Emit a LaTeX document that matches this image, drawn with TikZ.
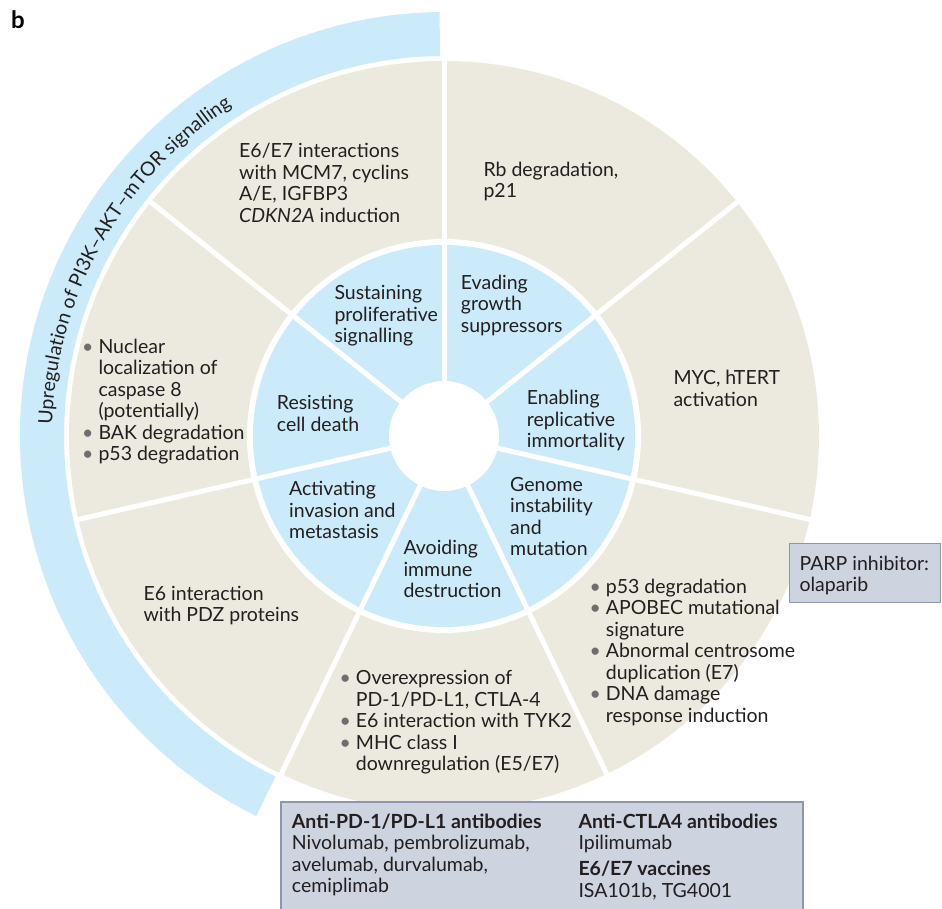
\documentclass[tikz,border=0pt]{standalone}
\usepackage{fontspec}
\setmainfont{Lato}
\usepackage{tikz}
\usetikzlibrary{decorations.text}
\definecolor{hallblue}{RGB}{204,235,250}
\definecolor{hpvbeige}{RGB}{236,234,222}
\definecolor{drugfill}{RGB}{206,211,224}
\definecolor{drugline}{RGB}{140,150,176}
\definecolor{inktext}{RGB}{35,31,32}
\definecolor{dotgray}{RGB}{110,110,110}
% anchor is the baseline of the last line
\tikzstyle{celltext}=[anchor=base west,inner sep=0pt,align=left,text=inktext,font=\fontsize{19.5}{21.5}\selectfont]
\tikzstyle{gap}=[draw=white,line width=5pt]
\tikzstyle{drugbox}=[fill=drugfill,draw=drugline,line width=1.2pt]
\newcommand{\bul}{\llap{\textcolor{dotgray}{\textbullet}\hspace{5pt}}}
\newcommand{\arcfont}{\fontsize{19.5}{21}\selectfont}

\begin{document}
\begin{tikzpicture}[x=1pt,y=1pt]
        \useasboundingbox (0,0) rectangle (942,908);
        \coordinate (c) at (444,472);
        % rings and sectors
        \fill[hpvbeige] (c) circle (375);
        \fill[white] (c) circle (197);
        \fill[hallblue] (c) circle (191);
        \fill[white] (c) circle (55);
        \foreach \k in {0,...,6}
          \draw[gap] (c) -- ++({90-\k*360/7}:377);
        % outer band
        \fill[hallblue] ([shift={(90.6:380)}]c) arc[start angle=90.6,end angle=243.7,radius=380]
          -- ([shift={(243.7:424)}]c) arc[start angle=243.7,end angle=90.6,radius=424] -- cycle;
        \path[decorate,decoration={text along path,text align=center,
          text={|\arcfont\color{inktext}|Upregulation of PI3K–AKT–mTOR signalling}}]
          ([shift={(177.7:392)}]c) arc[start angle=177.7,end angle=123.4,radius=392];
        \node[anchor=base west,inner sep=0pt,text=black,font=\fontsize{24}{24}\selectfont\bfseries] (panel) at (11,879) {b};
        % hallmarks
        \node[celltext] (sustain) at (334.3,565.2) {Sustaining\\proliferative\\signalling};
        \node[celltext] (evade) at (460.7,575.8) {Evading\\growth\\suppressors};
        \node[celltext] (enable) at (526.7,460.2) {Enabling\\replicative\\immortality};
        \node[celltext] (genome) at (510,352) {Genome\\instability\\and\\mutation};
        \node[celltext] (avoid) at (403.3,310.2) {Avoiding\\immune\\destruction};
        \node[celltext] (invade) at (289,369.2) {Activating\\invasion and\\metastasis};
        \node[celltext] (resist) at (276.7,476.7) {Resisting\\cell death};
        % HPV mechanisms
        \node[celltext] (mcm) at (239,685.5) {E6/E7 interactions\\with MCM7, cyclins\\A/E, IGFBP3\\\textit{CDKN2A} induction};
        \node[celltext] (rb) at (483.3,710) {Rb degradation,\\p21};
        \node[celltext] (myc) at (673.3,501.7) {MYC, hTERT\\activation};
        \node[celltext] (dna) at (605.7,185.8) {\bul p53 degradation\\\bul APOBEC mutational\\signature\\\bul Abnormal centrosome\\duplication (E7)\\\bul DNA damage\\response induction};
        \node[celltext] (pd1) at (355.7,137.2) {\bul Overexpression of\\PD-1/PD-L1, CTLA-4\\\bul E6 interaction with TYK2\\\bul MHC class I\\downregulation (E5/E7)};
        \node[celltext] (pdz) at (143.3,286) {E6 interaction\\with PDZ proteins};
        \node[celltext] (casp) at (98.3,447.3) {\bul Nuclear\\localization of\\caspase 8\\(potentially)\\\bul BAK degradation\\\bul p53 degradation};
        % therapies
        \draw[drugbox] (789.3,364.7) rectangle (940.7,305.3);
        \node[celltext] (parp) at (799.3,316) {PARP inhibitor:\\olaparib};
        \draw[drugbox] (281,-4) rectangle (803,106);
        \node[celltext] (antipd) at (291.7,15.5) {\textbf{Anti-PD-1/PD-L1 antibodies}\\Nivolumab, pembrolizumab,\\avelumab, durvalumab,\\cemiplimab};
        \node[celltext] (antictla) at (578.3,58.5) {\textbf{Anti-CTLA4 antibodies}\\Ipilimumab};
        \node[celltext] (vaccine) at (578.3,11) {\textbf{E6/E7 vaccines}\\ISA101b, TG4001};
\end{tikzpicture}
\end{document}
